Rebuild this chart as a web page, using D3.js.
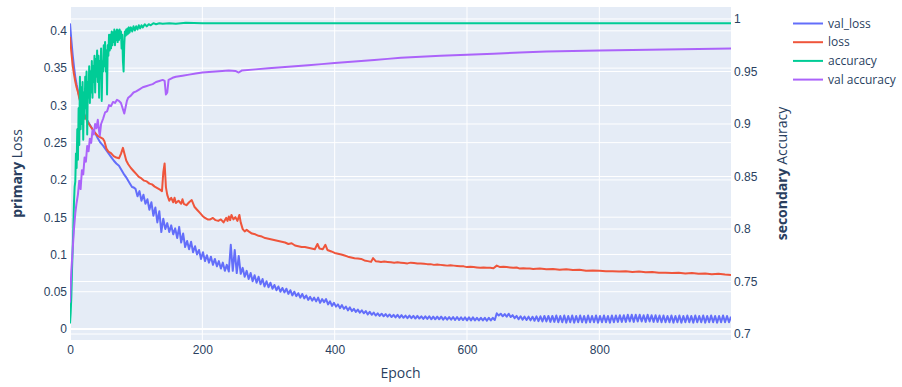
<!DOCTYPE html>
<html>
<head>
<meta charset="utf-8">
<script src="https://cdn.jsdelivr.net/npm/d3@7/dist/d3.min.js"></script>
<style>
  body { margin: 0; background: #fff; }
  svg { font-family: "Open Sans", verdana, arial, sans-serif; }
</style>
</head>
<body>
<div id="chart"></div>
<script>
// tick labels
const epochTicks = [0, 200, 400, 600, 800];
const lossTicks = [0, 0.05, 0.1, 0.15, 0.2, 0.25, 0.3, 0.35, 0.4];
const accTicks = [0.7, 0.75, 0.8, 0.85, 0.9, 0.95, 1];

const seriesNames = ["val_loss", "loss", "accuracy", "val accuracy"];

// [epoch, value]
const valLoss = [
  [0,0.41],[2,0.388],[4,0.368],[6,0.352],[8,0.338],[10,0.328],[12,0.32],[14,0.312],[16,0.304],[18,0.298],
  [20,0.292],[22,0.287],[26,0.28],[30,0.274],[34,0.268],[38,0.263],[42,0.256],[46,0.25],[50,0.246],[54,0.241],
  [58,0.236],[62,0.231],[66,0.226],[70,0.222],[74,0.219],[78,0.213],[82,0.207],[86,0.202],[90,0.196],[94,0.19],
  [96,0.19],
  [99,0.188],[102,0.178],[105,0.185],[108,0.172],[111,0.18],[114,0.168],[117,0.174],[120,0.16],[123,0.17],[126,0.152],
  [129,0.163],[132,0.143],[135,0.158],[138,0.13],[141,0.148],[144,0.134],[147,0.142],[150,0.13],[153,0.139],[156,0.127],
  [159,0.135],[162,0.122],[165,0.137],[168,0.116],[171,0.128],[174,0.11],[177,0.118],[180,0.107],[183,0.117],[186,0.103],
  [189,0.111],[192,0.1],[195,0.106],[198,0.094],[201,0.103],[204,0.091],[207,0.099],[210,0.089],[213,0.097],[216,0.086],
  [219,0.094],[222,0.084],[225,0.091],[228,0.081],[231,0.089],[234,0.078],[237,0.086],[240,0.077],[243,0.113],[246,0.078],
  [249,0.106],[252,0.075],[255,0.098],[258,0.074],[261,0.082],[264,0.07],[267,0.078],[270,0.067],[273,0.075],[276,0.064],
  [279,0.072],[282,0.062],[285,0.07],[288,0.06],[291,0.067],[294,0.057],[297,0.064],[300,0.056],[303,0.062],[306,0.054],
  [309,0.059],[312,0.052],[315,0.057],[318,0.05],[321,0.055],[324,0.049],[327,0.054],[330,0.047],[333,0.052],[336,0.045],
  [339,0.05],[342,0.044],[345,0.048],[348,0.042],[351,0.047],[354,0.041],[357,0.045],[360,0.039],[363,0.043],[366,0.038],
  [369,0.042],[372,0.037],[375,0.042],[378,0.035],[381,0.04],[384,0.036],[387,0.04],[390,0.033],[393,0.037],[396,0.031],
  [399,0.035],[402,0.03],[405,0.033],[408,0.028],[411,0.032],[414,0.027],[417,0.03],[420,0.025],[423,0.029],[426,0.024],
  [429,0.027],[432,0.023],[435,0.026],[438,0.022],[441,0.025],[444,0.021],[447,0.024],[450,0.0195],[453,0.023],[456,0.019],
  [459,0.022],[462,0.018],[465,0.021],[468,0.0175],[471,0.0205],[474,0.017],[477,0.02],[480,0.0165],[483,0.0195],[486,0.016],
  [489,0.019],[492,0.0155],[495,0.019],[498,0.015],[501,0.0185],[504,0.015],[507,0.018],[510,0.0145],[513,0.018],[516,0.0145],
  [519,0.0175],[522,0.014],[525,0.0175],[528,0.014],[531,0.017],[534,0.0135],[537,0.017],[540,0.0135],[543,0.017],[546,0.013],
  [549,0.0165],[552,0.013],[555,0.0165],[558,0.013],[561,0.0165],[564,0.0125],[567,0.016],[570,0.0125],[573,0.016],[576,0.0125],
  [579,0.016],[582,0.012],[585,0.016],[588,0.012],[591,0.0155],[594,0.012],[597,0.0155],[600,0.0115],[603,0.0155],[606,0.0115],
  [609,0.0155],[612,0.0115],[615,0.015],[618,0.0115],[621,0.015],[624,0.0115],[627,0.015],[630,0.011],[633,0.015],[636,0.0115],
  [639,0.015],[642,0.012],[645,0.021],[648,0.018],[651,0.0205],[654,0.017],[657,0.02],[660,0.0165],[663,0.0205],[666,0.016],
  [669,0.0185],[672,0.0145],[675,0.0175],[678,0.013],[681,0.017],[684,0.0125],[687,0.0165],[690,0.012],[693,0.0165],[696,0.0115],
  [699,0.0165],[702,0.011],[705,0.017],[708,0.0105],[711,0.017],[714,0.01],[717,0.0175],[720,0.01],[723,0.0175],[726,0.0095],
  [729,0.0175],[732,0.0095],[735,0.018],[738,0.009],[741,0.0175],[744,0.009],[747,0.018],[750,0.0085],[753,0.0175],[756,0.009],
  [759,0.018],[762,0.0085],[765,0.0175],[768,0.009],[771,0.018],[774,0.009],[777,0.0175],[780,0.0085],[783,0.018],[786,0.009],
  [789,0.0175],[792,0.009],[795,0.018],[798,0.0085],[801,0.0175],[804,0.009],[807,0.018],[810,0.009],[813,0.0175],[816,0.0085],
  [819,0.018],[822,0.009],[825,0.018],[828,0.0095],[831,0.0185],[834,0.0095],[837,0.0185],[840,0.0095],[843,0.019],[846,0.01],
  [849,0.019],[852,0.0095],[855,0.019],[858,0.01],[861,0.019],[864,0.01],[867,0.0185],[870,0.0095],[873,0.019],[876,0.01],
  [879,0.0185],[882,0.0095],[885,0.0185],[888,0.0095],[891,0.018],[894,0.009],[897,0.018],[900,0.009],[903,0.0175],[906,0.009],
  [909,0.018],[912,0.0085],[915,0.0175],[918,0.009],[921,0.018],[924,0.0085],[927,0.0175],[930,0.009],[933,0.018],[936,0.009],
  [939,0.0175],[942,0.0085],[945,0.018],[948,0.009],[951,0.0175],[954,0.009],[957,0.018],[960,0.0085],[963,0.0175],[966,0.009],
  [969,0.018],[972,0.009],[975,0.0175],[978,0.0085],[981,0.0175],[984,0.009],[987,0.018],[990,0.009],[993,0.0175],[996,0.009],
  [999,0.0165]
];

const loss = [
  [0,0.392],[2,0.372],[4,0.354],[6,0.342],[8,0.332],[10,0.324],[12,0.318],[14,0.31],[16,0.303],[18,0.298],
  [20,0.292],[22,0.287],[26,0.279],[30,0.273],[34,0.268],[38,0.263],[42,0.259],[46,0.257],[50,0.255],[52,0.252],
  [55,0.242],[58,0.238],[62,0.236],[66,0.232],[70,0.23],[74,0.229],[77,0.235],[80,0.243],[82,0.236],[85,0.226],
  [88,0.221],[92,0.216],[96,0.212],[100,0.208],[104,0.204],[108,0.202],[112,0.199],[116,0.198],[120,0.195],[124,0.194],
  [128,0.191],[132,0.189],[136,0.187],[139,0.185],[141,0.21],[143,0.222],[145,0.19],[147,0.18],[150,0.172],[153,0.176],
  [156,0.17],[158,0.176],[160,0.169],[164,0.172],[168,0.168],[170,0.174],[172,0.168],[176,0.166],[180,0.17],[184,0.173],
  [188,0.164],[192,0.16],[196,0.156],[200,0.152],[204,0.149],[208,0.147],[212,0.147],[216,0.149],[220,0.146],[224,0.145],
  [228,0.147],[232,0.143],[236,0.149],[238,0.145],[240,0.151],[242,0.146],[244,0.153],[247,0.147],[250,0.15],[253,0.145],
  [256,0.153],[258,0.143],[261,0.134],[264,0.131],[267,0.133],[270,0.131],[275,0.128],[280,0.127],[285,0.125],[290,0.124],
  [295,0.122],[300,0.121],[305,0.12],[310,0.119],[315,0.118],[320,0.117],[325,0.116],[330,0.114],[335,0.115],[340,0.112],
  [345,0.111],[350,0.11],[355,0.11],[360,0.109],[365,0.108],[370,0.107],[374,0.114],[377,0.108],[382,0.107],[386,0.113],
  [389,0.106],[395,0.104],[400,0.102],[405,0.101],[410,0.1],[415,0.0985],[420,0.097],[425,0.096],[430,0.095],[435,0.0945],
  [440,0.094],[445,0.092],[450,0.091],[455,0.09],[458,0.095],[462,0.091],[466,0.0905],[470,0.09],[475,0.0905],[480,0.09],
  [485,0.0895],[490,0.089],[495,0.0895],[500,0.089],[505,0.0885],[510,0.088],[515,0.089],[520,0.0885],[525,0.088],[530,0.088],
  [535,0.0875],[540,0.087],[545,0.087],[550,0.086],[555,0.0865],[560,0.086],[565,0.0855],[570,0.085],[575,0.0855],[580,0.085],
  [585,0.0845],[590,0.084],[595,0.084],[600,0.083],[605,0.0835],[610,0.083],[615,0.0825],[620,0.082],[625,0.0825],[630,0.082],
  [635,0.082],[640,0.0815],[645,0.085],[650,0.083],[655,0.0835],[660,0.083],[665,0.0825],[670,0.082],[675,0.0825],[680,0.081],
  [685,0.0815],[690,0.081],[695,0.081],[700,0.0805],[710,0.081],[720,0.08],[730,0.0805],[740,0.0795],[750,0.08],[760,0.079],
  [770,0.0795],[780,0.078],[790,0.0785],[800,0.078],[810,0.0775],[820,0.0775],[830,0.077],[840,0.0775],[850,0.0765],[860,0.077],
  [870,0.076],[880,0.0765],[890,0.0755],[900,0.0755],[910,0.075],[920,0.0755],[930,0.0745],[940,0.075],[950,0.074],[960,0.0745],
  [970,0.0735],[980,0.074],[990,0.073],[999,0.0725]
];

const accuracy = [
  [0,0.71],[1,0.72],[2,0.735],[3,0.76],[4,0.78],[5,0.8],[6,0.825],[7,0.84],
  [8,0.845],[9,0.872],[10,0.858],[11,0.895],[12,0.866],[13,0.915],[14,0.88],[15,0.945],[16,0.895],[17,0.935],
  [18,0.9],[19,0.94],[20,0.885],[21,0.93],[22,0.905],[23,0.945],[24,0.915],[25,0.95],[26,0.89],[27,0.94],
  [28,0.925],[29,0.955],[30,0.92],[31,0.95],[32,0.93],[33,0.96],[34,0.925],[35,0.955],[36,0.94],[37,0.965],
  [38,0.93],[39,0.962],[40,0.945],[41,0.97],[42,0.94],[43,0.965],[44,0.925],[45,0.96],[46,0.945],[47,0.972],
  [48,0.922],[49,0.96],[50,0.95],[51,0.975],[52,0.955],[53,0.978],[54,0.95],[55,0.97],[56,0.928],[57,0.975],
  [58,0.965],[59,0.985],[60,0.97],[61,0.985],[62,0.972],[63,0.988],[64,0.975],[65,0.987],[66,0.978],[67,0.99],
  [68,0.975],[69,0.988],[70,0.98],[71,0.99],[72,0.978],[73,0.989],[74,0.98],[75,0.99],[76,0.982],[77,0.988],
  [78,0.972],[79,0.985],[80,0.96],[81,0.95],[82,0.975],[83,0.988],[84,0.984],[85,0.99],[86,0.985],[87,0.991],
  [88,0.986],[89,0.992],[90,0.987],[92,0.992],[94,0.988],[96,0.993],[98,0.989],[100,0.993],[102,0.99],[104,0.994],
  [106,0.991],[108,0.994],[110,0.992],[113,0.995],[116,0.993],[119,0.995],[122,0.994],[126,0.996],[130,0.995],[135,0.996],
  [140,0.9955],[150,0.996],[160,0.9955],[175,0.9965],[200,0.996],[400,0.996],[600,0.996],[800,0.996],[999,0.996]
];

const valAccuracy = [
  [0,0.73],[2,0.76],[4,0.78],[6,0.8],[8,0.815],[10,0.825],[12,0.833],[14,0.846],[16,0.838],[18,0.856],
  [20,0.852],[22,0.868],[24,0.864],[26,0.879],[28,0.874],[30,0.886],[32,0.882],[34,0.894],[36,0.89],[38,0.9],
  [40,0.896],[42,0.904],[44,0.893],[45,0.889],[47,0.9],[50,0.905],[53,0.911],[56,0.912],[59,0.918],[62,0.917],
  [65,0.921],[68,0.92],[71,0.923],[74,0.922],[77,0.92],[80,0.914],[82,0.91],[84,0.916],[86,0.922],[88,0.925],
  [92,0.927],[96,0.93],[100,0.931],[105,0.933],[110,0.935],[115,0.936],[120,0.937],[125,0.938],[130,0.94],[135,0.941],
  [140,0.942],[143,0.941],[145,0.928],[147,0.93],[149,0.942],[155,0.944],[160,0.945],[170,0.946],[180,0.947],[190,0.948],
  [200,0.949],[220,0.95],[240,0.951],[250,0.9505],[255,0.949],[260,0.951],[280,0.952],[300,0.953],[320,0.954],[340,0.955],
  [360,0.956],[380,0.957],[400,0.958],[420,0.959],[440,0.96],[460,0.961],[480,0.962],[500,0.963],[530,0.964],[560,0.965],
  [600,0.966],[640,0.967],[680,0.968],[720,0.969],[760,0.9695],[800,0.97],[850,0.9705],[900,0.971],[950,0.9715],[999,0.972]
];

const width = 902, height = 387;
const plot = { left: 70, right: 731, top: 7, bottom: 340 };
const colors = ["#636efa", "#EF553B", "#00cc96", "#ab63fa"];
const textColor = "#2a3f5f";

const svg = d3.select("#chart").append("svg")
  .attr("width", width).attr("height", height);

const x = d3.scaleLinear().domain([0, 999]).range([plot.left, plot.right]);
const yL = d3.scaleLinear().domain([-0.0148, 0.432]).range([plot.bottom, plot.top]);
const yR = d3.scaleLinear().domain([0.6943, 1.0114]).range([plot.bottom, plot.top]);

// background
svg.append("rect")
  .attr("x", plot.left).attr("y", plot.top)
  .attr("width", plot.right - plot.left).attr("height", plot.bottom - plot.top)
  .attr("fill", "#E5ECF6");

// grid
const grid = svg.append("g").attr("stroke", "#fff").attr("stroke-width", 1);
grid.selectAll(".gx").data(epochTicks.filter(d => d !== 0)).enter().append("line")
  .attr("x1", d => x(d)).attr("x2", d => x(d))
  .attr("y1", plot.top).attr("y2", plot.bottom);
grid.selectAll(".gl").data(lossTicks.filter(d => d !== 0)).enter().append("line")
  .attr("x1", plot.left).attr("x2", plot.right)
  .attr("y1", d => yL(d)).attr("y2", d => yL(d));
grid.selectAll(".gr").data(accTicks).enter().append("line")
  .attr("x1", plot.left).attr("x2", plot.right)
  .attr("y1", d => yR(d)).attr("y2", d => yR(d));
// zero lines
grid.append("line").attr("stroke-width", 2)
  .attr("x1", plot.left).attr("x2", plot.right)
  .attr("y1", yL(0)).attr("y2", yL(0));
grid.append("line").attr("stroke-width", 2)
  .attr("x1", x(0)).attr("x2", x(0))
  .attr("y1", plot.top).attr("y2", plot.bottom);

svg.append("clipPath").attr("id", "clip").append("rect")
  .attr("x", plot.left).attr("y", plot.top)
  .attr("width", plot.right - plot.left).attr("height", plot.bottom - plot.top);

const lineL = d3.line().x(d => x(d[0])).y(d => yL(d[1]));
const lineR = d3.line().x(d => x(d[0])).y(d => yR(d[1]));

const traces = [
  { data: valLoss, line: lineL },
  { data: loss, line: lineL },
  { data: accuracy, line: lineR },
  { data: valAccuracy, line: lineR }
];

const lines = svg.append("g").attr("clip-path", "url(#clip)");
traces.forEach((t, i) => {
  lines.append("path")
    .datum(t.data)
    .attr("fill", "none")
    .attr("stroke", colors[i])
    .attr("stroke-width", 2)
    .attr("stroke-linejoin", "round")
    .attr("d", t.line);
});

// axes
const styleAxis = g => {
  g.select(".domain").remove();
  g.selectAll("text").attr("fill", textColor).style("font-size", "12px");
};
svg.append("g").attr("transform", `translate(0,${plot.bottom})`)
  .call(d3.axisBottom(x).tickValues(epochTicks).tickSize(0).tickPadding(5).tickFormat(d => String(d)))
  .call(styleAxis);
svg.append("g").attr("transform", `translate(${plot.left},0)`)
  .call(d3.axisLeft(yL).tickValues(lossTicks).tickSize(0).tickPadding(3).tickFormat(d => String(d)))
  .call(styleAxis);
svg.append("g").attr("transform", `translate(${plot.right},0)`)
  .call(d3.axisRight(yR).tickValues(accTicks).tickSize(0).tickPadding(3).tickFormat(d => String(d)))
  .call(styleAxis);

// axis titles
svg.append("text")
  .attr("x", (plot.left + plot.right) / 2).attr("y", 377.5)
  .attr("text-anchor", "middle").attr("fill", textColor).style("font-size", "14px")
  .text("Epoch");

const leftTitle = svg.append("text")
  .attr("transform", `translate(17,${(plot.top + plot.bottom) / 2}) rotate(-90)`)
  .attr("dy", "0.35em").attr("text-anchor", "middle").attr("fill", textColor).style("font-size", "14px");
leftTitle.append("tspan").attr("font-weight", "bold").text("primary");
leftTitle.append("tspan").text(" Loss");

const rightTitle = svg.append("text")
  .attr("transform", `translate(782,${(plot.top + plot.bottom) / 2}) rotate(-90)`)
  .attr("dy", "0.35em").attr("text-anchor", "middle").attr("fill", textColor).style("font-size", "14px");
rightTitle.append("tspan").attr("font-weight", "bold").text("secondary");
rightTitle.append("tspan").text(" Accuracy");

// legend
const legend = svg.append("g").attr("transform", "translate(793,23.5)");
seriesNames.forEach((name, i) => {
  const row = legend.append("g").attr("transform", `translate(0,${i * 18.7})`);
  row.append("line").attr("x1", 0).attr("x2", 30)
    .attr("stroke", colors[i]).attr("stroke-width", 2);
  row.append("text").attr("x", 35).attr("dy", "0.35em")
    .attr("fill", textColor).style("font-size", "12px").text(name);
});
</script>
</body>
</html>
